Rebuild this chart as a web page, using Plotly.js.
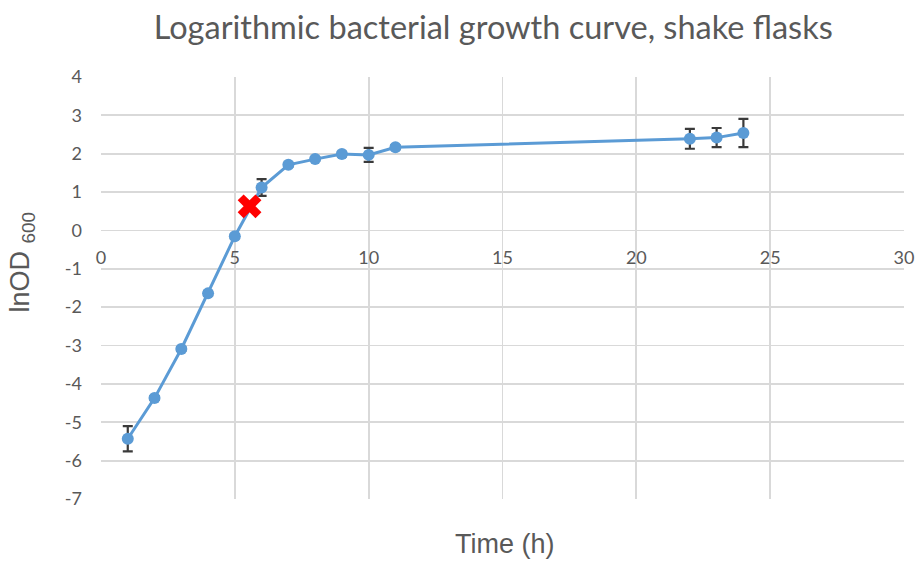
<!DOCTYPE html>
<html>
<head>
<meta charset="utf-8">
<script src="https://cdn.plot.ly/plotly-3.0.1.min.js"></script>
<style>html,body{margin:0;padding:0;background:#fff;}#chart{width:922px;height:562px;}</style>
</head>
<body>
<div id="chart"></div>
<script>
const timeHours = [1, 2, 3, 4, 5, 6, 7, 8, 9, 10, 11, 22, 23, 24];
const lnOD600 = [-5.43, -4.37, -3.09, -1.64, -0.15, 1.12, 1.71, 1.86, 1.99, 1.97, 2.17, 2.39, 2.42, 2.54];
const lnOD600Error = [0.33, 0.05, 0.05, 0.05, 0.05, 0.22, 0.05, 0.05, 0.06, 0.18, 0.05, 0.26, 0.25, 0.37];
const markTime = [5.55];
const markValue = [0.63];
const xTickValues = [0, 5, 10, 15, 20, 25, 30];
const yTickValues = [-7, -6, -5, -4, -3, -2, -1, 0, 1, 2, 3, 4];

const gray = '#595959';
const gridColor = '#d9d9d9';

const traces = [
  {
    x: timeHours, y: lnOD600, type: 'scatter', mode: 'lines+markers',
    line: {color: '#5B9BD5', width: 3},
    marker: {color: '#5B9BD5', size: 12},
    error_y: {type: 'data', array: lnOD600Error, visible: true, color: '#3a3a3a', thickness: 2.2, width: 5},
    hoverinfo: 'x+y', showlegend: false
  },
  {
    x: markTime, y: markValue, type: 'scatter', mode: 'markers',
    marker: {symbol: 'x', color: '#FF0000', size: 21, line: {width: 0}},
    showlegend: false
  }
];

const layout = {
  width: 922, height: 562,
  paper_bgcolor: '#ffffff', plot_bgcolor: '#ffffff',
  margin: {l: 100.5, r: 18, t: 76.5, b: 62.5},
  title: {
    text: 'Logarithmic bacterial growth curve, shake flasks',
    font: {family: 'Lato, sans-serif', size: 32.5, color: gray},
    x: 0.535, xref: 'container', xanchor: 'center',
    y: 0.95, yref: 'container', yanchor: 'middle'
  },
  xaxis: {
    range: [0, 30], tickvals: xTickValues, ticktext: xTickValues.map(String),
    anchor: 'free', position: 7 / 11,
    showgrid: true, gridcolor: gridColor, gridwidth: 1.8,
    zeroline: false, showline: false, ticks: '',
    ticklabelstandoff: 15,
    tickfont: {family: 'Lato, sans-serif', size: 18, color: gray},
    fixedrange: true
  },
  yaxis: {
    range: [-7, 4], tickvals: yTickValues, ticktext: yTickValues.map(String),
    showgrid: true, gridcolor: gridColor, gridwidth: 1.8,
    zeroline: false, showline: false, ticks: '',
    ticklabelstandoff: 18,
    tickfont: {family: 'Lato, sans-serif', size: 18, color: gray},
    fixedrange: true
  },
  annotations: [
    {
      text: 'Time (h)', xref: 'paper', yref: 'paper', x: 0.503, y: -0.1076,
      xanchor: 'center', yanchor: 'middle', showarrow: false,
      font: {family: 'Liberation Sans, Arial, sans-serif', size: 27, color: gray}
    },
    {
      text: 'lnOD <sub>600</sub>', xref: 'paper', yref: 'paper', x: -0.0977, y: 0.5615,
      xanchor: 'center', yanchor: 'middle', showarrow: false, textangle: -90,
      font: {family: 'Liberation Sans, Arial, sans-serif', size: 27, color: gray}
    }
  ]
};

Plotly.newPlot('chart', traces, layout, {displayModeBar: false, staticPlot: true});
</script>
</body>
</html>
